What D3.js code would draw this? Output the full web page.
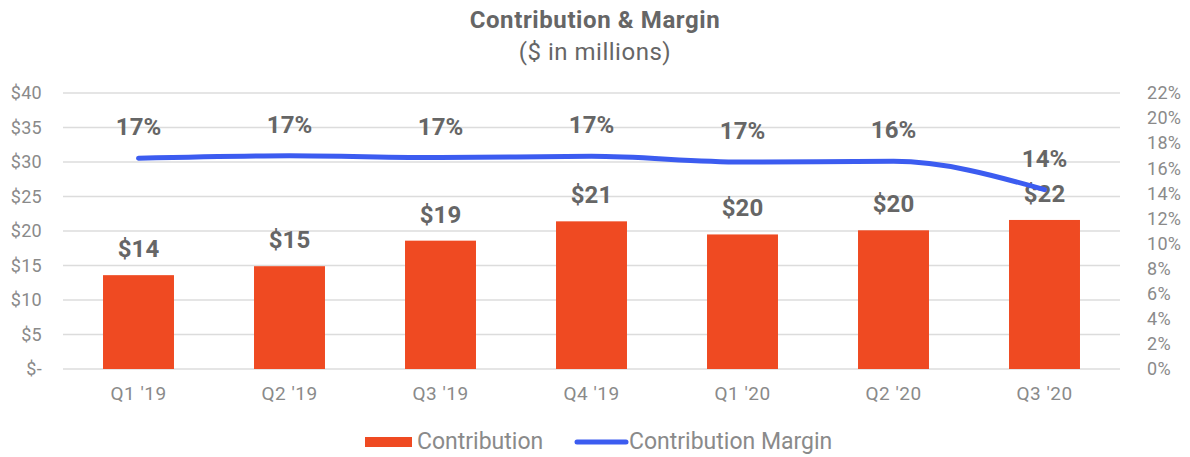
<!DOCTYPE html>
<html>
<head>
<meta charset="utf-8">
<script src="https://cdn.jsdelivr.net/npm/d3@7"></script>
<style>
  body { margin: 0; background: #fff; }
  text { font-family: Roboto, "Liberation Sans", sans-serif; }
</style>
</head>
<body>
<svg></svg>
<script>
const quarters = ["Q1 '19", "Q2 '19", "Q3 '19", "Q4 '19", "Q1 '20", "Q2 '20", "Q3 '20"];
const contribution = [13.6, 14.9, 18.6, 21.4, 19.5, 20.1, 21.6];
const contributionLabels = ["$14", "$15", "$19", "$21", "$20", "$20", "$22"];
const margin = [16.8, 17.0, 16.85, 16.95, 16.5, 16.55, 14.3];
const marginLabels = ["17%", "17%", "17%", "17%", "17%", "16%", "14%"];
const leftTicks = [0, 5, 10, 15, 20, 25, 30, 35, 40];
const rightTicks = [0, 2, 4, 6, 8, 10, 12, 14, 16, 18, 20, 22];

const width = 1190;
const height = 457;
const svg = d3.select("svg").attr("width", width).attr("height", height);

const plot = { left: 63, right: 1120, top: 93, bottom: 369 };
const barColor = "#ef4a22";
const lineColor = "#3c5cf0";
const textGray = "#666";
const axisGray = "#8a8a8a";

const x = d3.scaleBand().domain(quarters).range([plot.left, plot.right]).paddingInner(0.53).paddingOuter(0.265);
const y = d3.scaleLinear().domain([0, 40]).range([plot.bottom, plot.top]);
const y2 = d3.scaleLinear().domain([0, 22]).range([plot.bottom, plot.top]);

// title
svg.append("text")
  .attr("x", 595).attr("y", 28)
  .attr("text-anchor", "middle")
  .attr("font-size", 24).attr("font-weight", "bold")
  .attr("letter-spacing", 0.6)
  .attr("fill", textGray)
  .text("Contribution & Margin");
svg.append("text")
  .attr("x", 595).attr("y", 60)
  .attr("text-anchor", "middle")
  .attr("font-size", 24)
  .attr("letter-spacing", 0.5)
  .attr("fill", textGray)
  .text("($ in millions)");

// gridlines
svg.append("g")
  .selectAll("line")
  .data(leftTicks)
  .enter()
  .append("line")
  .attr("x1", plot.left).attr("x2", plot.right)
  .attr("y1", (d) => y(d)).attr("y2", (d) => y(d))
  .attr("stroke", "#dcdcdc").attr("stroke-width", 1.5);

// left axis
const leftAxis = svg.append("g")
  .attr("transform", `translate(${plot.left - 21},0)`)
  .call(d3.axisLeft(y).tickValues(leftTicks).tickSize(0).tickPadding(0)
    .tickFormat((d) => (d === 0 ? "$-" : "$" + d)));
leftAxis.select(".domain").remove();
leftAxis.selectAll("text").attr("font-size", 18).attr("letter-spacing", 0.3)
  .attr("fill", axisGray).attr("font-family", "Roboto, sans-serif");

// right axis
const rightAxis = svg.append("g")
  .attr("transform", `translate(${plot.right + 27},0)`)
  .call(d3.axisRight(y2).tickValues(rightTicks).tickSize(0).tickPadding(0)
    .tickFormat((d) => d + "%"));
rightAxis.select(".domain").remove();
rightAxis.selectAll("text").attr("font-size", 18).attr("letter-spacing", 0.3)
  .attr("fill", axisGray).attr("font-family", "Roboto, sans-serif");

// x axis
const xAxis = svg.append("g")
  .attr("transform", `translate(0,${plot.bottom})`)
  .call(d3.axisBottom(x).tickSize(0).tickPadding(0));
xAxis.select(".domain").remove();
xAxis.selectAll("text")
  .attr("y", 31).attr("dy", null)
  .attr("font-size", 19).attr("letter-spacing", 0.5)
  .attr("fill", axisGray).attr("font-family", "Roboto, sans-serif");

// bars
svg.append("g")
  .selectAll("rect")
  .data(contribution)
  .enter()
  .append("rect")
  .attr("x", (d, i) => x(quarters[i]))
  .attr("width", x.bandwidth())
  .attr("y", (d) => y(d))
  .attr("height", (d) => y(0) - y(d))
  .attr("fill", barColor);

// bar labels
svg.append("g")
  .selectAll("text")
  .data(contribution)
  .enter()
  .append("text")
  .attr("x", (d, i) => x(quarters[i]) + x.bandwidth() / 2)
  .attr("y", (d) => y(d) - 18)
  .attr("text-anchor", "middle")
  .attr("font-size", 24).attr("font-weight", "bold")
  .attr("fill", textGray)
  .text((d, i) => contributionLabels[i]);

// margin line
const line = d3.line()
  .x((d, i) => x(quarters[i]) + x.bandwidth() / 2)
  .y((d) => y2(d))
  .curve(d3.curveMonotoneX);
svg.append("path")
  .datum(margin)
  .attr("d", line)
  .attr("fill", "none")
  .attr("stroke", lineColor)
  .attr("stroke-width", 5)
  .attr("stroke-linecap", "round");

// margin labels
svg.append("g")
  .selectAll("text")
  .data(margin)
  .enter()
  .append("text")
  .attr("x", (d, i) => x(quarters[i]) + x.bandwidth() / 2)
  .attr("y", (d) => y2(d) - 23)
  .attr("text-anchor", "middle")
  .attr("font-size", 24).attr("font-weight", "bold")
  .attr("fill", textGray)
  .text((d, i) => marginLabels[i]);

// legend
const legend = svg.append("g");
legend.append("rect")
  .attr("x", 365).attr("y", 437).attr("width", 47).attr("height", 10)
  .attr("fill", barColor);
legend.append("text")
  .attr("x", 417).attr("y", 449)
  .attr("font-size", 23).attr("fill", axisGray)
  .text("Contribution");
legend.append("line")
  .attr("x1", 577).attr("x2", 626).attr("y1", 442).attr("y2", 442)
  .attr("stroke", lineColor).attr("stroke-width", 5).attr("stroke-linecap", "round");
legend.append("text")
  .attr("x", 629).attr("y", 449)
  .attr("font-size", 23).attr("fill", axisGray)
  .text("Contribution Margin");
</script>
</body>
</html>
